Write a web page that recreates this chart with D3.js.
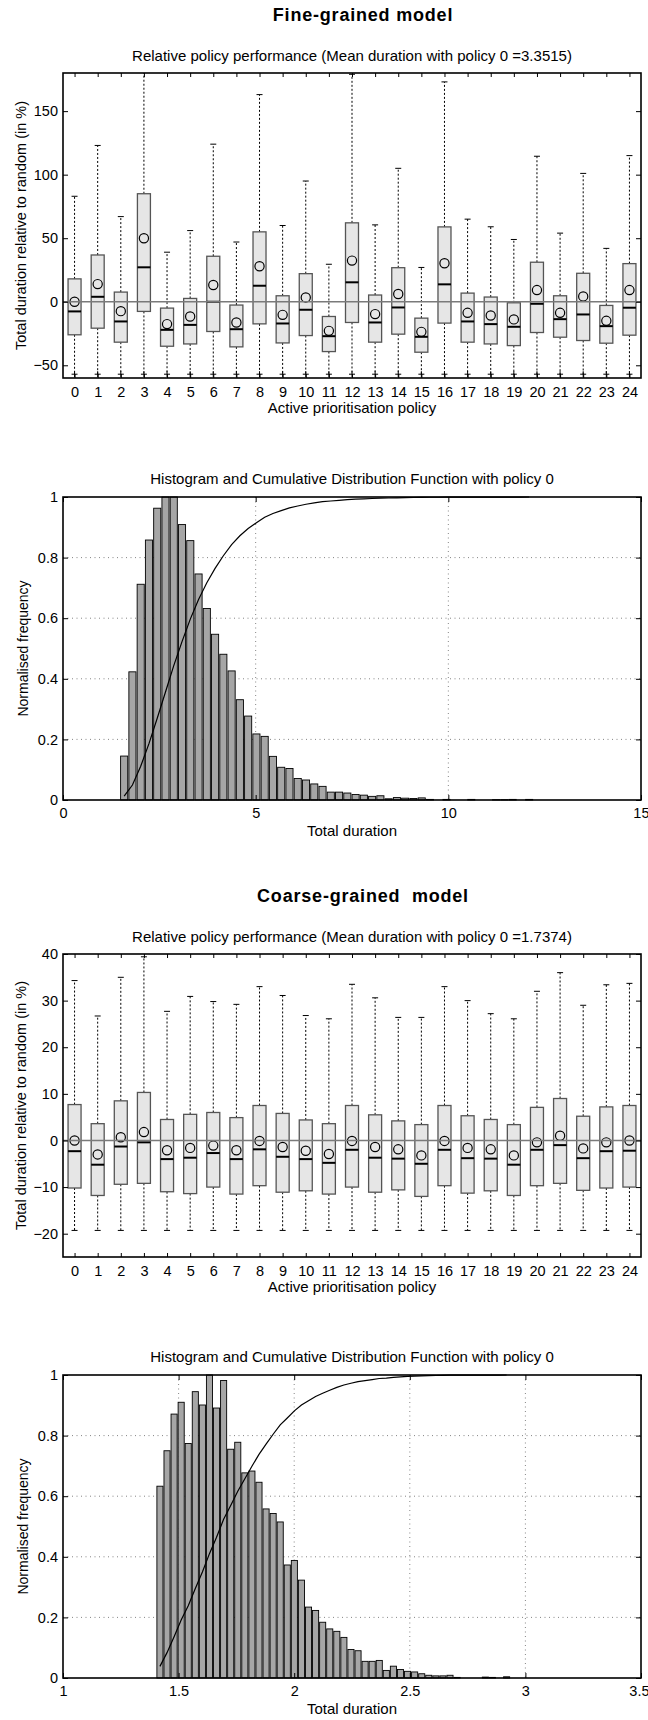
<!DOCTYPE html>
<html>
<head>
<meta charset="utf-8">
<script src="https://cdn.jsdelivr.net/npm/d3@7"></script>
<style>
  body { margin: 0; background: #fff; }
  text { font-family: "Liberation Sans", Arial, Helvetica, sans-serif; fill: #000; }
</style>
</head>
<body>
<svg id="fig" width="648" height="1720"></svg>
<script>
// ---- data ----
var policies = d3.range(25);

// fine-grained model, total duration relative to random (in %)
var fineHigh = [83, 123, 67, 190, 39, 56, 124, 47, 163, 60, 95, 29.5, 179, 60.5, 105, 27, 173, 65, 59, 49, 114.5, 54, 101, 42, 115];
var fineQ3   = [18, 36.8, 7.6, 85, -5, 2.6, 35.8, -2.6, 55, 4.7, 22.1, -11.6, 62.1, 5.3, 26.8, -12.9, 58.9, 6.8, 3.7, -0.8, 31.1, 4.7, 22.4, -2.9, 30];
var fineMed  = [-7.6, 3.9, -15.5, 27.1, -22.1, -18.2, 0, -21.6, 12.6, -17.1, -6.3, -27.1, 15.3, -16.3, -4.5, -27.6, 13.7, -15.5, -17.6, -19.7, -1.6, -13.7, -10, -19.2, -4.7];
var fineQ1   = [-26, -20.8, -31.8, -7.6, -35, -33.2, -23.4, -35.5, -17.4, -32.4, -26.6, -39.2, -16.3, -31.8, -25.5, -39.7, -16.8, -31.8, -33.2, -34.5, -24.2, -27.9, -30.5, -32.6, -26.3];
var fineMean = [0, 13.9, -7.4, 50, -17.6, -11.6, 13.2, -16.3, 27.9, -10.3, 3.4, -22.9, 32.4, -9.7, 6.1, -23.7, 30.3, -8.7, -10.8, -13.9, 9.2, -8.7, 4.2, -15, 9.2];
var fineLow  = [-57, -57, -57, -57, -57, -57, -57, -57, -57, -57, -57, -57, -57, -57, -57, -57, -57, -57, -57, -57, -57, -57, -57, -57, -57];

// coarse-grained model
var coarseHigh = [34.3, 26.7, 35, 39.4, 27.7, 30.9, 29.8, 29.2, 33, 31.1, 26.8, 26.1, 33.5, 30.6, 26.4, 26.4, 33, 30, 27.2, 26.1, 32, 36, 29, 33.4, 33.7];
var coarseQ3   = [7.7, 3.6, 8.5, 10.3, 4.5, 5.6, 6, 4.9, 7.5, 5.8, 4.4, 3.6, 7.5, 5.5, 4.2, 3.4, 7.5, 5.3, 4.5, 3.4, 7.1, 9, 5.2, 7.2, 7.5];
var coarseMed  = [-2.3, -5.2, -1.3, -0.4, -4, -3.7, -2.7, -4, -1.9, -3.5, -4, -4.8, -2, -3.7, -3.9, -5, -2, -3.8, -3.9, -5.2, -2, -1, -3.8, -2.3, -2.2];
var coarseQ1   = [-10.2, -11.8, -9.4, -9.2, -11, -11.4, -10, -11.5, -9.7, -11.1, -10.8, -11.5, -10, -11.1, -10.6, -12, -9.7, -11.3, -10.8, -11.8, -9.7, -9.2, -10.7, -10.2, -10];
var coarseMean = [0, -3, 0.7, 1.8, -2.1, -1.6, -1.1, -2.1, -0.1, -1.4, -2.2, -2.9, -0.1, -1.4, -1.9, -3.2, -0.1, -1.6, -1.9, -3.2, -0.4, 1, -1.7, -0.4, 0];
var coarseLow  = [-19.3, -19.3, -19.3, -19.3, -19.3, -19.3, -19.3, -19.3, -19.3, -19.3, -19.3, -19.3, -19.3, -19.3, -19.3, -19.3, -19.3, -19.3, -19.3, -19.3, -19.3, -19.3, -19.3, -19.3, -19.3];

// histograms (normalised frequency, 50 bins each)
var fineBinStart = 1.48, fineBinWidth = 0.2145;
var fineHist = [0.145, 0.423, 0.712, 0.858, 0.963, 1.0, 1.0, 0.909, 0.856, 0.746,
                0.632, 0.547, 0.481, 0.426, 0.331, 0.277, 0.218, 0.210, 0.144, 0.108,
                0.104, 0.071, 0.066, 0.053, 0.045, 0.026, 0.026, 0.023, 0.018, 0.016,
                0.012, 0.014, 0.004, 0.008, 0.006, 0.005, 0.007, 0.002, 0, 0.002,
                0, 0, 0.002, 0, 0, 0.001, 0.001, 0.002, 0, 0.002];
var coarseBinStart = 1.404, coarseBinWidth = 0.0306;
var coarseHist = [0.633, 0.750, 0.871, 0.910, 0.774, 0.945, 0.901, 1.0, 0.891, 0.982,
                  0.755, 0.778, 0.677, 0.683, 0.646, 0.558, 0.543, 0.515, 0.373, 0.388,
                  0.323, 0.234, 0.223, 0.184, 0.162, 0.154, 0.134, 0.094, 0.090, 0.055,
                  0.055, 0.058, 0.025, 0.039, 0.028, 0.022, 0.020, 0.014, 0.009, 0.007,
                  0.007, 0.009, 0.002, 0, 0, 0, 0.003, 0.002, 0, 0.004];

var fineTicksY = [-50, 0, 50, 100, 150];
var coarseTicksY = [-20, -10, 0, 10, 20, 30, 40];
var histTicksY = [0, 0.2, 0.4, 0.6, 0.8, 1];
var fineTicksX = [0, 5, 10, 15];
var coarseTicksX = [1, 1.5, 2, 2.5, 3, 3.5];

// ---- layout ----
var svg = d3.select("#fig");
var X0 = 63, X1 = 641;
var tickFont = "14.5px";

function styleAxis(sel) {
  sel.select(".domain").remove();
  sel.attr("font-family", null).attr("font-size", null);
  sel.selectAll(".tick line").attr("stroke", "#000").attr("stroke-width", 1);
  sel.selectAll(".tick text").style("font-size", tickFont);
}

function minusFmt(d) { return d < 0 ? "\u2212" + Math.abs(d) : String(d); }

function addText(txt, x, y, size, opts) {
  opts = opts || {};
  var t = svg.append("text").attr("x", x).attr("y", y)
    .attr("text-anchor", "middle")
    .style("font-size", size)
    .style("white-space", "pre")
    .text(txt);
  if (opts.bold) t.style("font-weight", "bold");
  if (opts.spacing) t.style("letter-spacing", opts.spacing);
  if (opts.rotate) t.attr("transform", "rotate(-90," + x + "," + y + ")");
  return t;
}

function drawFrame(g, top, bottom) {
  g.append("rect").attr("x", X0).attr("y", top)
    .attr("width", X1 - X0).attr("height", bottom - top)
    .attr("fill", "none").attr("stroke", "#000").attr("stroke-width", 1.6);
}

function drawBoxPanel(p) {
  var x = d3.scaleLinear().domain([-0.5, 24.5]).range([X0, X1]);
  var y = d3.scaleLinear().domain(p.ylim).range([p.bottom, p.top]);
  var g = svg.append("g");

  svg.append("clipPath").attr("id", "clip" + p.id).append("rect")
    .attr("x", X0).attr("y", p.top).attr("width", X1 - X0).attr("height", p.bottom - p.top);
  var inner = g.append("g").attr("clip-path", "url(#clip" + p.id + ")");

  var bw = 13, cap = 3;
  var b = inner.selectAll("g.box").data(policies).enter().append("g").attr("class", "box");

  // whiskers
  b.append("line").attr("x1", function(i) { return x(i); }).attr("x2", function(i) { return x(i); })
    .attr("y1", function(i) { return y(p.q3[i]); }).attr("y2", function(i) { return y(p.high[i]); })
    .attr("stroke", "#000").attr("stroke-dasharray", "2,2");
  b.append("line").attr("x1", function(i) { return x(i); }).attr("x2", function(i) { return x(i); })
    .attr("y1", function(i) { return y(p.q1[i]); }).attr("y2", function(i) { return y(p.low[i]); })
    .attr("stroke", "#000").attr("stroke-dasharray", "2,2");
  // caps
  b.append("line").attr("x1", function(i) { return x(i) - cap; }).attr("x2", function(i) { return x(i) + cap; })
    .attr("y1", function(i) { return y(p.high[i]); }).attr("y2", function(i) { return y(p.high[i]); })
    .attr("stroke", "#000");
  b.append("line").attr("x1", function(i) { return x(i) - cap; }).attr("x2", function(i) { return x(i) + cap; })
    .attr("y1", function(i) { return y(p.low[i]); }).attr("y2", function(i) { return y(p.low[i]); })
    .attr("stroke", "#000");
  if (p.plus) {
    b.append("line").attr("x1", function(i) { return x(i); }).attr("x2", function(i) { return x(i); })
      .attr("y1", function(i) { return y(p.low[i]) - 3; }).attr("y2", function(i) { return y(p.low[i]) + 3; })
      .attr("stroke", "#000");
  }
  // boxes
  b.append("rect").attr("x", function(i) { return x(i) - bw / 2; })
    .attr("y", function(i) { return y(p.q3[i]); })
    .attr("width", bw)
    .attr("height", function(i) { return y(p.q1[i]) - y(p.q3[i]); })
    .attr("fill", "#e6e6e6").attr("stroke", "#555").attr("stroke-width", 1.3);

  // zero reference
  inner.append("line").attr("x1", X0).attr("x2", X1).attr("y1", y(0)).attr("y2", y(0))
    .attr("stroke", "#7a7a7a").attr("stroke-width", 1.5);

  // medians and means
  b.append("line").attr("x1", function(i) { return x(i) - bw / 2; }).attr("x2", function(i) { return x(i) + bw / 2; })
    .attr("y1", function(i) { return y(p.med[i]); }).attr("y2", function(i) { return y(p.med[i]); })
    .attr("stroke", "#000").attr("stroke-width", 2);
  b.append("circle").attr("cx", function(i) { return x(i); }).attr("cy", function(i) { return y(p.mean[i]); })
    .attr("r", 4.6).attr("fill", "none").attr("stroke", "#000").attr("stroke-width", 1.2);

  drawFrame(g, p.top, p.bottom);

  g.append("g").attr("transform", "translate(0," + p.bottom + ")")
    .call(d3.axisBottom(x).tickValues(policies).tickSize(-4).tickPadding(9)).call(styleAxis);
  g.append("g").attr("transform", "translate(0," + p.top + ")")
    .call(d3.axisTop(x).tickValues(policies).tickSize(-4).tickFormat("")).call(styleAxis);
  g.append("g").attr("transform", "translate(" + X0 + ",0)")
    .call(d3.axisLeft(y).tickValues(p.yticks).tickSize(-5).tickPadding(5).tickFormat(minusFmt)).call(styleAxis);
  g.append("g").attr("transform", "translate(" + X1 + ",0)")
    .call(d3.axisRight(y).tickValues(p.yticks).tickSize(-5).tickFormat("")).call(styleAxis);

  addText(p.title, 363, p.top - 52, "18px", { bold: true, spacing: "0.8px" });
  addText(p.subtitle, (X0 + X1) / 2, p.top - 12, "15px");
  addText("Active prioritisation policy", (X0 + X1) / 2, p.bottom + 35, "15px");
  addText("Total duration relative to random (in %)", 26, (p.top + p.bottom) / 2, "14.5px", { rotate: true });
}

function drawHistPanel(p) {
  var x = d3.scaleLinear().domain(p.xlim).range([X0, X1]);
  var y = d3.scaleLinear().domain([0, 1]).range([p.bottom, p.top]);
  var g = svg.append("g");

  // dotted grid
  g.selectAll("line.gx").data(p.xticks.slice(1, -1)).enter().append("line")
    .attr("x1", function(d) { return x(d); }).attr("x2", function(d) { return x(d); })
    .attr("y1", p.top).attr("y2", p.bottom)
    .attr("stroke", "#777").attr("stroke-width", 0.9).attr("stroke-dasharray", "1,3.5");
  g.selectAll("line.gy").data(histTicksY.slice(1, -1)).enter().append("line")
    .attr("x1", X0).attr("x2", X1)
    .attr("y1", function(d) { return y(d); }).attr("y2", function(d) { return y(d); })
    .attr("stroke", "#777").attr("stroke-width", 0.9).attr("stroke-dasharray", "1,3.5");

  var centers = p.hist.map(function(v, i) { return p.start + (i + 0.5) * p.width; });
  var barW = x(p.start + p.width) - x(p.start);

  g.selectAll("rect.bar").data(p.hist).enter().append("rect")
    .attr("x", function(v, i) { return x(centers[i]) - barW * 0.43; })
    .attr("y", function(v) { return y(v); })
    .attr("width", barW * 0.86)
    .attr("height", function(v) { return y(0) - y(v); })
    .attr("fill", "#a6a6a6").attr("stroke", "#000").attr("stroke-width", 0.9);

  // cumulative distribution derived from the histogram counts
  var total = d3.sum(p.hist);
  var cum = Array.from(d3.cumsum(p.hist), function(c) { return c / total; });
  g.append("path").datum(cum)
    .attr("d", d3.line().x(function(c, i) { return x(centers[i]); }).y(function(c) { return y(c); }))
    .attr("fill", "none").attr("stroke", "#000").attr("stroke-width", 1.2);

  drawFrame(g, p.top, p.bottom);

  var xAx = g.append("g").attr("transform", "translate(0," + p.bottom + ")")
    .call(d3.axisBottom(x).tickValues(p.xticks).tickSize(-5).tickPadding(8).tickFormat(function(d) { return String(d); })).call(styleAxis);
  // last label sits on the page edge: keep it inside
  xAx.selectAll(".tick text").filter(function(d) { return d === p.xlim[1]; })
    .attr("text-anchor", "end").attr("dx", "0.55em");
  g.append("g").attr("transform", "translate(0," + p.top + ")")
    .call(d3.axisTop(x).tickValues(p.xticks).tickSize(-5).tickFormat("")).call(styleAxis);
  g.append("g").attr("transform", "translate(" + X0 + ",0)")
    .call(d3.axisLeft(y).tickValues(histTicksY).tickSize(-5).tickPadding(5).tickFormat(function(d) { return String(d); })).call(styleAxis);
  g.append("g").attr("transform", "translate(" + X1 + ",0)")
    .call(d3.axisRight(y).tickValues(histTicksY).tickSize(-5).tickFormat("")).call(styleAxis);

  addText("Histogram and Cumulative Distribution Function with policy 0", (X0 + X1) / 2, p.top - 13, "15px");
  addText("Total duration", (X0 + X1) / 2, p.bottom + 36, "15px");
  addText("Normalised frequency", 28, (p.top + p.bottom) / 2, "14px", { rotate: true });
}

drawBoxPanel({
  id: "a", top: 73, bottom: 378, ylim: [-60, 180], yticks: fineTicksY,
  high: fineHigh, q3: fineQ3, med: fineMed, q1: fineQ1, mean: fineMean, low: fineLow, plus: true,
  title: "Fine-grained model",
  subtitle: "Relative policy performance (Mean duration with policy 0 =3.3515)"
});
drawHistPanel({
  top: 497, bottom: 800, xlim: [0, 15], xticks: fineTicksX,
  hist: fineHist, start: fineBinStart, width: fineBinWidth
});
drawBoxPanel({
  id: "c", top: 954, bottom: 1257, ylim: [-25, 40], yticks: coarseTicksY,
  high: coarseHigh, q3: coarseQ3, med: coarseMed, q1: coarseQ1, mean: coarseMean, low: coarseLow, plus: false,
  title: "Coarse-grained  model",
  subtitle: "Relative policy performance (Mean duration with policy 0 =1.7374)"
});
drawHistPanel({
  top: 1375, bottom: 1678, xlim: [1, 3.5], xticks: coarseTicksX,
  hist: coarseHist, start: coarseBinStart, width: coarseBinWidth
});
</script>
</body>
</html>
